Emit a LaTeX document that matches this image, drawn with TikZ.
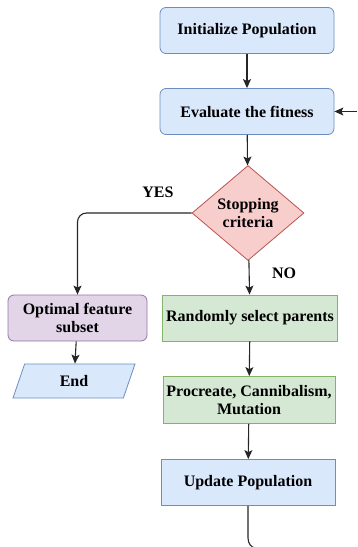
\documentclass[tikz,border=0pt]{standalone}
\usepackage{fontspec}
\setmainfont{Liberation Serif}[BoldFont={Liberation Serif Bold}]
\usetikzlibrary{shapes.geometric, arrows.meta}

\definecolor{bluefill}{HTML}{DAE8FC}
\definecolor{blueline}{HTML}{6C8EBF}
\definecolor{redfill}{HTML}{F8CECC}
\definecolor{redline}{HTML}{B85450}
\definecolor{greenfill}{HTML}{D5E8D4}
\definecolor{greenline}{HTML}{82B366}
\definecolor{purplefill}{HTML}{E1D5E7}
\definecolor{purpleline}{HTML}{9673A6}

\tikzset{
    txt/.style={font=\fontsize{16}{17.5}\selectfont\bfseries},
    box/.style={txt, draw, line width=0.8pt, minimum width=174pt, minimum height=46pt, inner sep=1pt, align=center},
    rbox/.style={box, rounded corners=6pt},
    arr/.style={draw=black!85, line width=1.1pt, -{Stealth[length=9pt, width=8pt, inset=2pt]}}
}

\begin{document}
\begin{tikzpicture}[x=1pt, y=-1pt]
    \useasboundingbox (0, 0) rectangle (357, 547);
    \node[rbox, fill=bluefill, draw=blueline] (init) at (247, 30.5) {Initialize Population};
    \node[rbox, fill=bluefill, draw=blueline] (eval) at (247, 111.5) {Evaluate the fitness};
    \node[txt, diamond, draw=redline, fill=redfill, line width=0.8pt, minimum width=112pt, minimum height=95pt, inner sep=0pt, align=center] (stop) at (248, 213) {Stopping\\criteria};
    \node[rbox, fill=purplefill, draw=purpleline, minimum width=139pt] (opt) at (77.5, 318) {Optimal feature\\subset};
    \node[txt, trapezium, trapezium left angle=57, trapezium right angle=123, trapezium stretches body, draw=blueline, fill=bluefill, line width=0.8pt, minimum width=122pt, minimum height=34pt] (end) at (74, 381) {End};
    \node[box, fill=greenfill, draw=greenline, minimum width=175pt] (rand) at (250, 318) {Randomly select parents};
    \node[box, fill=greenfill, draw=greenline, minimum width=172pt, minimum height=47pt] (proc) at (249, 400) {Procreate, Cannibalism,\\Mutation};
    \node[box, fill=bluefill, draw=blueline] (upd) at (248, 482.5) {Update Population};
    \node[txt] (yes) at (158, 192) {YES};
    \node[txt] (no) at (284, 273) {NO};
    \coordinate (loopin) at (357, 111.5);
    \coordinate (loopout) at (256, 548);

    \draw[arr] (init) -- (eval);
    \draw[arr] (loopin) -- (eval.east);
    \draw[arr] (eval) -- (stop);
    \draw[arr, rounded corners=9pt] (stop.west) -| (opt.north);
    \draw[arr] (stop) -- (rand);
    \draw[arr] (opt) -- (end);
    \draw[arr] (rand) -- (proc);
    \draw[arr] (proc) -- (upd);
    \draw[draw=black!85, line width=1.1pt] (upd.south) -- ++(0, 32) to[out=-90, in=180] (loopout);
\end{tikzpicture}
\end{document}
